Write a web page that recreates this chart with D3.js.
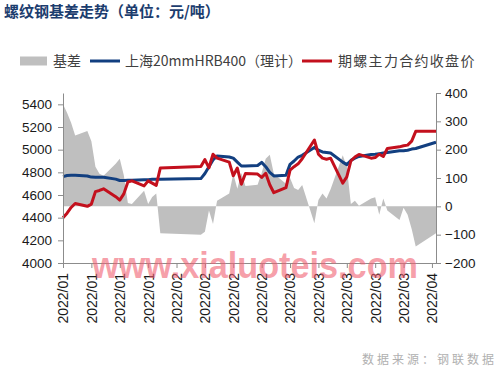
<!DOCTYPE html>
<html>
<head>
<meta charset="utf-8">
<script src="https://cdn.jsdelivr.net/npm/d3@7"></script>
<style>
  body { margin: 0; background: #fff; }
  #chart text { font-family: "Liberation Sans", Arial, sans-serif; }
  #chart text.cn { font-family: "Noto Sans CJK SC", sans-serif; }
</style>
</head>
<body>
<div id="chart"></div>
<script>
/* Rebar basis chart: spot vs. main futures contract, Jan-Apr 2022 */

/* trading days (x axis is a calendar time axis, so gaps are bridged) */
const dates = [
  "2022-01-04","2022-01-05","2022-01-06","2022-01-07","2022-01-10","2022-01-11","2022-01-12","2022-01-13","2022-01-14",
  "2022-01-17","2022-01-18","2022-01-19","2022-01-20","2022-01-21","2022-01-24","2022-01-25","2022-01-26","2022-01-27","2022-01-28",
  "2022-02-07","2022-02-08","2022-02-09","2022-02-10","2022-02-11","2022-02-14","2022-02-15","2022-02-16","2022-02-17","2022-02-18",
  "2022-02-21","2022-02-22","2022-02-23","2022-02-24","2022-02-25","2022-02-28",
  "2022-03-01","2022-03-02","2022-03-03","2022-03-04","2022-03-07","2022-03-08","2022-03-09","2022-03-10","2022-03-11",
  "2022-03-14","2022-03-15","2022-03-16","2022-03-17","2022-03-18","2022-03-21","2022-03-22","2022-03-23","2022-03-24","2022-03-25",
  "2022-03-28","2022-03-29","2022-03-30","2022-03-31","2022-04-01","2022-04-06"
];

/* 上海20mmHRB400 spot price (left axis) */
const spot = [
  4762, 4772, 4775, 4775, 4768, 4758, 4756, 4756, 4756,
  4740, 4728, 4728, 4730, 4730, 4735, 4735, 4738, 4738, 4740,
  4745, 4790, 4850, 4910, 4945, 4935, 4925, 4890, 4856, 4856,
  4860, 4888, 4850, 4800, 4768, 4775,
  4870, 4900, 4935, 4950, 5020, 4995, 4980, 4975, 4970,
  4890, 4868, 4905, 4925, 4940, 4958, 4960, 4965, 4970, 4975,
  4990, 4990, 4995, 5005, 5010, 5065
];

/* 期螺主力合约收盘价 (left axis) */
const futures = [
  4400, 4440, 4490, 4525, 4500, 4520, 4630, 4640, 4655,
  4585, 4555, 4610, 4715, 4725, 4680, 4725, 4705, 4685, 4838,
  4852, 4912, 4840, 4960, 4925, 4890, 4770, 4838, 4695, 4790,
  4785, 4755, 4792, 4690, 4620, 4665,
  4820, 4850, 4875, 4920, 5085, 4960, 4925, 4915, 4925,
  4705, 4760, 4900, 4935, 4958, 4925, 4930, 4960, 4940, 5010,
  5025, 5035, 5040, 5075, 5162, 5162
];

/* 基差 (right axis) */
const basis = [
  360, 330, 295, 250, 266, 230, 140, 115, 108,
  150, 168, 110, 12, 8, 55, 8, 33, 45, -95,
  -100, -90, -15, -62, 20, 45, 115, 62, 118, 72,
  76, 118, 168, 182, 115, 80,
  100, 65, 58, 75, -60, 22, 45, 28, 60,
  180, 140, 8, 20, 2, 28, 32, -30, 28, -15,
  -48, -5, -30, -80, -142, -95
];

const tickDates = [
  "2022-01-04","2022-01-11","2022-01-18","2022-01-25",
  "2022-02-01","2022-02-08","2022-02-15","2022-02-22",
  "2022-03-01","2022-03-08","2022-03-15","2022-03-22","2022-03-29",
  "2022-04-05"
];
const leftTicks = [4000, 4200, 4400, 4600, 4800, 5000, 5200, 5400];
const rightTicks = [-200, -100, 0, 100, 200, 300, 400];

const width = 500,
    height = 370,
    margin = ({ top: 93, right: 64, bottom: 107, left: 63 });

const svg = d3.select("#chart")
    .append("svg")
    .attr("width", width)
    .attr("height", height)
    .attr("viewBox", [0, 0, width, height]);

let parse = d3.timeParse("%Y-%m-%d");
let data = dates.map((d, i) => ({
    date: parse(d), spot: spot[i], fut: futures[i], basis: basis[i]
}));

/* scales */
let x = d3.scaleTime()
    .domain(d3.extent(data, d => d.date))
    .range([margin.left, width - margin.right]);

let yL = d3.scaleLinear()
    .domain([4000, 5500])
    .range([height - margin.bottom, margin.top]);

let yR = d3.scaleLinear()
    .domain([-200, 400])
    .range([height - margin.bottom, margin.top]);

/* basis area */
let area = d3.area()
    .x(d => x(d.date))
    .y0(yR(0))
    .y1(d => yR(d.basis));

svg.append("path")
    .datum(data)
    .attr("d", area)
    .attr("fill", "#bfbfbf");

/* lines */
let spotLine = d3.line().x(d => x(d.date)).y(d => yL(d.spot));
let futLine = d3.line().x(d => x(d.date)).y(d => yL(d.fut));

svg.append("path")
    .datum(data)
    .attr("d", spotLine)
    .attr("fill", "none")
    .attr("stroke", "#123f80")
    .attr("stroke-width", 3)
    .attr("stroke-linejoin", "round");

svg.append("path")
    .datum(data)
    .attr("d", futLine)
    .attr("fill", "none")
    .attr("stroke", "#c3101d")
    .attr("stroke-width", 3)
    .attr("stroke-linejoin", "round");

/* axes */
function styleAxis(g, size) {
    g.select(".domain").attr("stroke", "#8c8c8c");
    g.selectAll(".tick line").attr("stroke", "#8c8c8c");
    g.selectAll(".tick text").attr("fill", "#1a1a1a").style("font-size", size);
}

svg.append("g")
    .attr("transform", `translate(${margin.left},0)`)
    .call(d3.axisLeft(yL).tickValues(leftTicks).tickFormat(d3.format("d"))
        .tickSize(5).tickSizeOuter(0).tickPadding(6))
    .call(g => styleAxis(g, "13.5px"));

svg.append("g")
    .attr("transform", `translate(${width - margin.right},0)`)
    .call(d3.axisRight(yR).tickValues(rightTicks).tickSize(5).tickSizeOuter(0).tickPadding(4))
    .call(g => styleAxis(g, "13.5px"));

svg.append("g")
    .attr("transform", `translate(0,${height - margin.bottom})`)
    .call(d3.axisBottom(x).tickValues(tickDates.map(parse))
        .tickFormat(d3.timeFormat("%Y/%m")).tickSize(5).tickSizeOuter(0))
    .call(g => styleAxis(g, "14px"))
    .call(g => g.selectAll(".tick text")
        .attr("transform", "rotate(-90)")
        .attr("text-anchor", "end")
        .attr("x", -10)
        .attr("y", 0)
        .attr("dy", "0.35em"));

/* title */
svg.append("text")
    .attr("class", "cn")
    .attr("x", 4)
    .attr("y", 17)
    .attr("fill", "#1c3d6e")
    .style("font-size", "15px")
    .style("font-weight", "bold")
    .text("螺纹钢基差走势（单位：元/吨）");

/* legend */
const legend = svg.append("g").attr("transform", "translate(0,61)");
legend.append("rect")
    .attr("x", 20).attr("y", -4.5).attr("width", 27).attr("height", 9)
    .attr("fill", "#bfbfbf");
legend.append("text").attr("class", "cn")
    .attr("x", 53).attr("y", 5).attr("fill", "#404040")
    .style("font-size", "14px").text("基差");
legend.append("line")
    .attr("x1", 90).attr("x2", 120).attr("stroke", "#123f80").attr("stroke-width", 3);
legend.append("text").attr("class", "cn")
    .attr("x", 125).attr("y", 5).attr("fill", "#404040")
    .style("font-size", "14px").text("上海20mmHRB400（理计）");
legend.append("line")
    .attr("x1", 302).attr("x2", 332).attr("stroke", "#c3101d").attr("stroke-width", 3);
legend.append("text").attr("class", "cn")
    .attr("x", 338).attr("y", 5).attr("fill", "#404040")
    .style("font-size", "14px").style("letter-spacing", "1.3px").text("期螺主力合约收盘价");

/* watermark */
svg.append("text")
    .attr("x", 92)
    .attr("y", 278)
    .attr("textLength", 326)
    .attr("lengthAdjust", "spacingAndGlyphs")
    .attr("fill", "#f06070")
    .attr("fill-opacity", 0.6)
    .style("font-size", "37px")
    .style("font-weight", "bold")
    .text("www.xialuoteis.com");

/* source */
svg.append("text")
    .attr("class", "cn")
    .attr("x", 497)
    .attr("y", 364)
    .attr("text-anchor", "end")
    .attr("fill", "#b0b0b0")
    .style("font-size", "12px")
    .style("letter-spacing", "3px")
    .text("数据来源：钢联数据");
</script>
</body>
</html>
